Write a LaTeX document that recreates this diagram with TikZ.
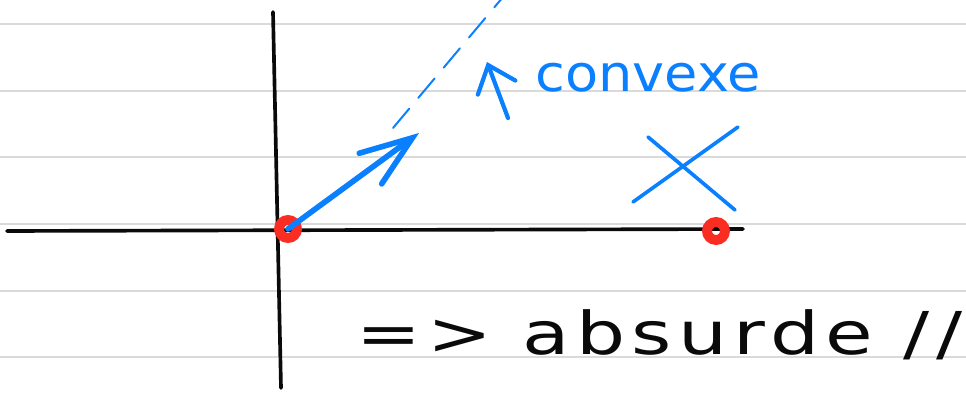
\documentclass[tikz,border=0pt]{standalone}
\usepackage{fontspec}
\usepackage{tikz}
\usetikzlibrary{arrows.meta}
\newfontfamily\notefont{DejaVu Sans}
\newfontfamily\widenotefont[LetterSpace=8]{DejaVu Sans}
\definecolor{InkBlue}{RGB}{10,128,255}
\definecolor{InkRed}{RGB}{250,45,35}
\definecolor{InkBlack}{RGB}{10,10,10}
\definecolor{RuleGray}{RGB}{218,218,218}

\begin{document}
\begin{tikzpicture}[x=0.025cm,y=-0.025cm,
    pen/.style={line width=2.6pt,line cap=round},
    bluepen/.style={pen,InkBlue},
    dot/.style={circle,draw=InkRed,line width=7pt,minimum size=0.45cm,inner sep=0pt},
    note/.style={inner sep=0pt,font=\notefont\fontsize{36}{40}\selectfont}]
  % Page: 966 x 398 px, 1 px = 0.025 cm, y runs downwards
  \useasboundingbox (0,0) rectangle (966,398);

  % ruled paper
  \foreach \ry in {24,91,157,224,291,357}{
    \draw[RuleGray,line width=1.4pt] (0,\ry) -- (966,\ry);
  }

  % axes
  \coordinate (xL) at (7,231);
  \coordinate (xR) at (743,229);
  \coordinate (yT) at (273,12);
  \coordinate (yB) at (281,388);
  \draw[pen,InkBlack] (xL) -- (xR);
  \draw[pen,InkBlack] (yT) -- (yB);

  % the two points
  \node[dot] (o) at (288,229) {};
  \node[dot] (p) at (716,231) {};

  % vector + dashed ray
  \coordinate (tip) at (419,133);
  \coordinate (rayA) at (393,128);
  \coordinate (rayB) at (503,-3);
  \draw[bluepen,line width=4pt,-{Straight Barb[length=1.3cm,width=0.95cm,line cap=round]}] (o.center) -- (tip);
  \draw[bluepen,line width=1.4pt,dash pattern=on 18pt off 10pt] (rayA) -- (rayB);

  % label with its small arrow
  \coordinate (lblTail) at (508,118);
  \coordinate (lblTip) at (487,62);
  \draw[bluepen,line width=3pt,-{Straight Barb[length=0.6cm,width=1cm,line cap=round]}] (lblTail) -- (lblTip);
  \node[note,text=InkBlue,anchor=base west,xscale=1.07] (conv) at (535,92) {convexe};

  % cross
  \coordinate (c1) at (648,137);
  \coordinate (c2) at (735,210);
  \coordinate (c3) at (633,202);
  \coordinate (c4) at (738,127);
  \draw[bluepen] (c1) -- (c2);
  \draw[bluepen] (c3) -- (c4);

  % conclusion
  \node[note,font=\widenotefont\fontsize{42}{46}\selectfont,text=InkBlack,anchor=base west,xscale=1.31] (abs) at (356,355) {=> absurde //};
\end{tikzpicture}
\end{document}
